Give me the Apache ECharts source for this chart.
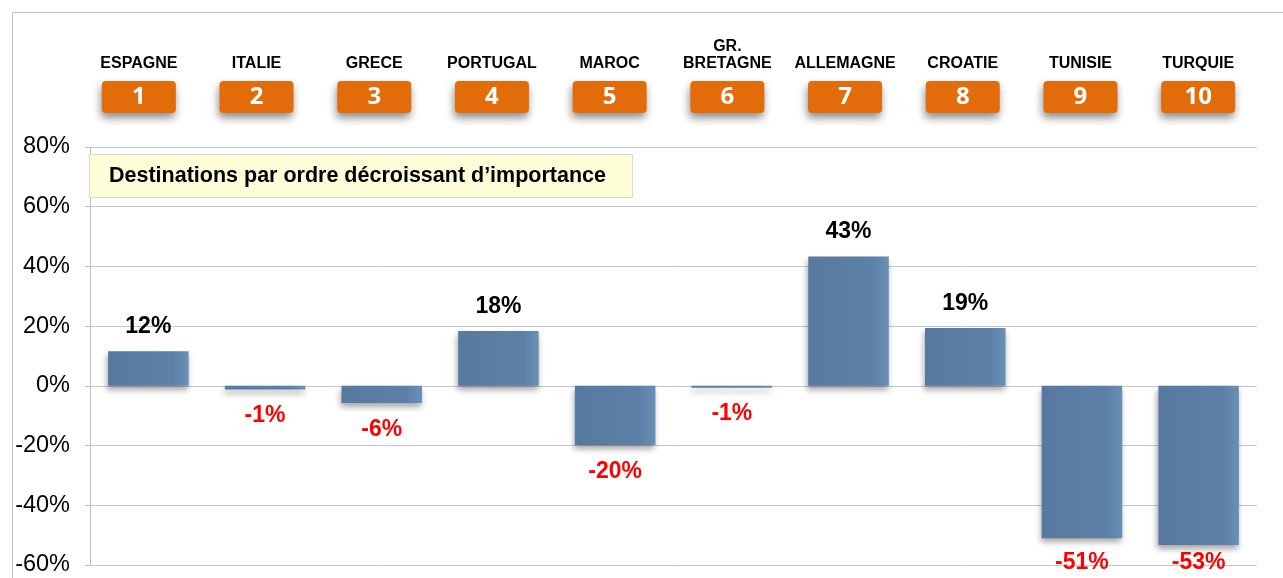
<!DOCTYPE html>
<html><head><meta charset="utf-8">
<script src="https://cdn.jsdelivr.net/npm/echarts@6/dist/echarts.min.js"></script>
<style>html,body{margin:0;padding:0;background:#fff}#c{width:1283px;height:578px}</style>
</head><body><div id="c"></div>
<script>
const categories = ['ESPAGNE','ITALIE','GRECE','PORTUGAL','MAROC','GR.\nBRETAGNE','ALLEMAGNE','CROATIE','TUNISIE','TURQUIE'];
const ranks = ['1','2','3','4','5','6','7','8','9','10'];
const values = [11.6, -1.2, -5.7, 18.4, -19.8, -0.6, 43.3, 19.4, -51.0, -53.3];
const yTicks = [-60, -40, -20, 0, 20, 40, 60, 80];
const titleText = 'Destinations par ordre décroissant d’importance';

const chart = echarts.init(document.getElementById('c'), null, {renderer: 'canvas'});
const FONT = 'Liberation Sans, Arial, sans-serif';
chart.setOption({
  backgroundColor: '#fff',
  animation: false,
  graphic: [{type: 'rect', left: 10, top: 10, shape: {width: 1290, height: 600}, style: {fill: 'none', stroke: '#c0c0c0', lineWidth: 1}, silent: true}],
  title: {
    text: titleText, left: 89, top: 154,
    padding: [11, 27, 11, 20],
    backgroundColor: '#fdfdd8', borderColor: '#dcdcc0', borderWidth: 1,
    textStyle: {fontFamily: FONT, fontWeight: 'bold', fontSize: 21.5, color: '#000'}
  },
  grid: [
    {left: 90, right: 26, top: 147, bottom: 13},
    {left: 80, right: 26, top: 147, height: 1}
  ],
  xAxis: [{
    type: 'category', data: categories, gridIndex: 0, position: 'bottom',
    axisLine: {show: false}, axisTick: {show: false}, splitLine: {show: false}, axisLabel: {show: false}
  }, {
    type: 'category', data: categories, gridIndex: 1, position: 'top',
    axisLine: {show: false}, axisTick: {show: false}, splitLine: {show: false},
    axisLabel: {interval: 0, margin: 75, fontFamily: FONT, fontWeight: 'bold', fontSize: 16, color: '#000', lineHeight: 17}
  }, {
    type: 'category', data: ranks, gridIndex: 1, position: 'top',
    axisLine: {show: false}, axisTick: {show: false}, splitLine: {show: false},
    axisLabel: {
      interval: 0, margin: 34,
      formatter: v => '{b|' + v + '}',
      rich: {b: {
        backgroundColor: '#e36c0a', width: 74, height: 32, align: 'center', verticalAlign: 'middle',
        borderRadius: 4, color: '#fff', fontFamily: 'Open Sans, ' + FONT, fontWeight: 'bold', fontSize: 24,
        shadowColor: 'rgba(0,0,0,0.45)', shadowBlur: 8, shadowOffsetX: -1, shadowOffsetY: 5
      }}
    }
  }],
  yAxis: [{
    type: 'value', min: -60, max: 80, interval: 20, gridIndex: 0,
    axisLine: {show: true, lineStyle: {color: '#bfbfbf'}},
    axisTick: {show: true, length: 5, lineStyle: {color: '#bfbfbf'}},
    splitLine: {show: true, lineStyle: {color: '#c6c6c6', width: 1}},
    axisLabel: {margin: 20, fontFamily: FONT, fontSize: 23.5, color: '#000', formatter: v => yTicks.includes(v) ? v + '%' : ''}
  }, {
    type: 'value', gridIndex: 1, show: false
  }],
  series: [{
    type: 'bar', xAxisIndex: 0, yAxisIndex: 0, barCategoryGap: '31%',
    data: values.map(v => ({
      value: v,
      label: {position: v >= 0 ? 'top' : 'bottom', distance: v >= 0 ? 13 : 15, color: v >= 0 ? '#000' : '#ff0000'}
    })),
    itemStyle: {
      color: new echarts.graphic.LinearGradient(0, 0, 1, 0, [{offset: 0, color: '#58799f'}, {offset: 0.8, color: '#5c80a7'}, {offset: 1, color: '#6a90b7'}]),
      shadowColor: 'rgba(0,0,0,0.35)', shadowBlur: 6, shadowOffsetX: -1, shadowOffsetY: 4
    },
    label: {
      show: true, fontFamily: FONT, fontWeight: 'bold', fontSize: 23,
      formatter: p => Math.round(p.value) + '%'
    },
    labelLayout: p => (p.labelRect.y + p.labelRect.height / 2 > 564) ?
      {x: p.rect.x + p.rect.width / 2, y: 563, align: 'center', verticalAlign: 'middle'} : {}
  }]
});
</script></body></html>
